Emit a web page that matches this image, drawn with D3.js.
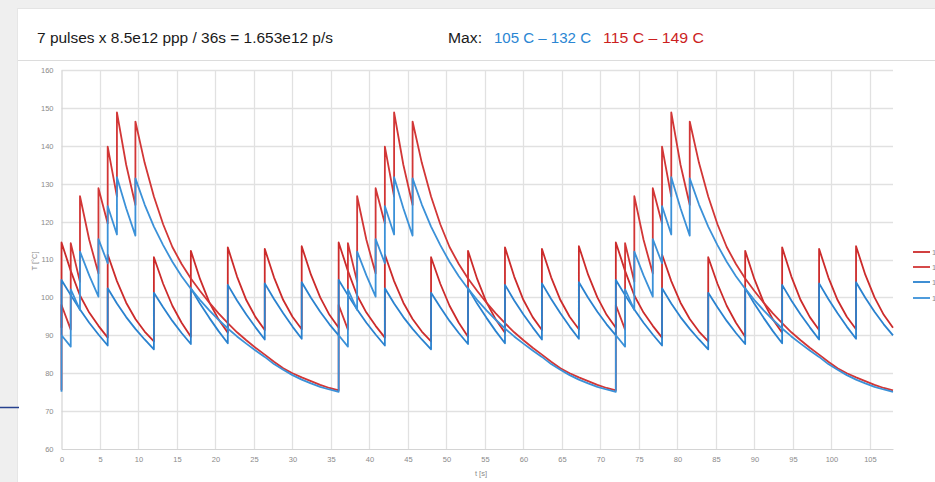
<!DOCTYPE html>
<html>
<head>
<meta charset="utf-8">
<script src="https://cdn.jsdelivr.net/npm/d3@7"></script>
<style>
  html, body { margin: 0; padding: 0; background: #f1f1f1; overflow: hidden; }
  svg { display: block; }
</style>
</head>
<body>
<svg id="chart" width="935" height="482"></svg>
<script>
// ---------- DATA (one 36 s super-cycle, repeated 3 times) ----------
const cycleLength = 36;
const cycleStarts = [0, 36, 72];

// Scenario A: 7 evenly spread pulses
const timesA = [0, 0, 1.2, 2.4, 3.6, 4.8, 6, 6, 7.2, 8.4, 9.6, 10.8, 12, 12, 13.2, 14.4, 15.6, 16.8, 16.8, 18, 19.2, 20.4, 21.6, 21.6, 22.8, 24, 25.2, 26.4, 26.4, 27.6, 28.8, 30, 31.2, 31.2, 32.4, 33.6, 34.8, 36];
const redA   = [92, 114.5, 107, 100.5, 96, 92.5, 89.4, 111.3, 104.3, 98.6, 94.3, 91.0, 88.4, 110.6, 103.6, 97.8, 93.3, 89.6, 112.3, 104.8, 98.7, 94.2, 90.7, 113.2, 105.5, 99.3, 94.8, 91.4, 112.8, 105.3, 99.3, 94.9, 91.6, 113.5, 106, 100, 95.4, 92];
const blueA  = [90, 104.6, 100.6, 96.8, 93.3, 90.2, 87.3, 102.4, 98.4, 94.8, 91.7, 88.9, 86.3, 101.2, 97.4, 93.8, 90.6, 87.7, 102.4, 98.3, 94.6, 91.1, 87.9, 103.3, 99.2, 95.5, 92.1, 88.9, 103.7, 99.6, 95.8, 92.3, 89.1, 104, 99.9, 96.2, 92.9, 90];

// Scenario B: 7 bunched pulses
const timesB = [0, 0, 1.2, 1.2, 2.4, 2.4, 3.6, 4.8, 4.8, 6, 6, 7.2, 7.2, 8.4, 9.6, 9.6, 10.8, 12, 13.2, 14.4, 15.6, 16.8, 18, 19.2, 20.4, 21.6, 22.8, 24, 25.2, 26.4, 27.6, 28.8, 30, 31.2, 32.4, 33.6, 34.8, 36];
const redB   = [75.5, 98, 91.5, 114.3, 104.1, 126.7, 115.2, 106.3, 128.8, 119.5, 139.8, 126.6, 148.8, 135.0, 124.4, 146.4, 135.5, 126.6, 119.3, 113.3, 108.8, 105.0, 101.7, 98.6, 95.8, 93.2, 90.8, 88.7, 86.7, 84.9, 83.0, 81.3, 80.0, 78.9, 77.9, 76.9, 76.1, 75.5];
const blueB  = [75.1, 90, 87, 102.1, 96.7, 112.1, 105.8, 100.2, 115.4, 109, 124.1, 116.6, 131.7, 123.5, 116.3, 131.4, 124.5, 118.7, 113.8, 109.4, 105.6, 102.3, 99.3, 96.6, 94.1, 91.8, 89.7, 87.8, 86.0, 84.3, 82.4, 80.9, 79.5, 78.3, 77.3, 76.4, 75.7, 75.1];

const xTickValues = [0, 5, 10, 15, 20, 25, 30, 35, 40, 45, 50, 55, 60, 65, 70, 75, 80, 85, 90, 95, 100, 105];
const yTickValues = [60, 70, 80, 90, 100, 110, 120, 130, 140, 150, 160];

const seriesNames  = ["115 C", "149 C", "105 C", "132 C"];
const seriesColors = ["#cc2b2b", "#d23636", "#2a82cf", "#3b91d8"];

const titleText = "7 pulses x 8.5e12 ppp / 36s = 1.653e12 p/s";
const maxLabel = "Max:";
const blueMaxText = "105 C \u2013 132 C";
const redMaxText = "115 C \u2013 149 C";

// ---------- BUILD ----------
function repeatCycle(times, values) {
  const pts = [];
  cycleStarts.forEach(s => {
    times.forEach((t, i) => pts.push([s + t, values[i]]));
  });
  return pts;
}
const series = [
  { name: seriesNames[0], color: seriesColors[0], pts: repeatCycle(timesA, redA) },
  { name: seriesNames[1], color: seriesColors[1], pts: repeatCycle(timesB, redB) },
  { name: seriesNames[2], color: seriesColors[2], pts: repeatCycle(timesA, blueA) },
  { name: seriesNames[3], color: seriesColors[3], pts: repeatCycle(timesB, blueB) }
];

const svg = d3.select("#chart");

// page / card background
svg.append("rect").attr("x", 0).attr("y", 0).attr("width", 935).attr("height", 482).attr("fill", "#efefef");
svg.append("rect").attr("x", 18).attr("y", 8).attr("width", 930).attr("height", 480).attr("fill", "#ffffff");
svg.append("line").attr("x1", 18).attr("x2", 935).attr("y1", 8.5).attr("y2", 8.5).attr("stroke", "#e4e4e4");
svg.append("line").attr("x1", 17.5).attr("x2", 17.5).attr("y1", 8).attr("y2", 482).attr("stroke", "#e6e6e6");
// separator under title
svg.append("line").attr("x1", 18).attr("x2", 935).attr("y1", 60.5).attr("y2", 60.5).attr("stroke", "#dcdcdc");
// small dark-blue line at left edge
svg.append("line").attr("x1", 0).attr("x2", 19).attr("y1", 407.5).attr("y2", 407.5).attr("stroke", "#27418f").attr("stroke-width", 1.5);

// title texts
const tf = "'Liberation Sans', Arial, sans-serif";
svg.append("text").attr("x", 37).attr("y", 43).attr("font-family", tf).attr("font-size", 15.5)
  .attr("fill", "#1a1a1a").attr("textLength", 296).attr("lengthAdjust", "spacingAndGlyphs").text(titleText);
svg.append("text").attr("x", 448).attr("y", 43).attr("font-family", tf).attr("font-size", 15.5)
  .attr("fill", "#1a1a1a").attr("textLength", 34).attr("lengthAdjust", "spacingAndGlyphs").text(maxLabel);
svg.append("text").attr("x", 494).attr("y", 43).attr("font-family", tf).attr("font-size", 15.5)
  .attr("fill", "#2a86d3").attr("textLength", 97).attr("lengthAdjust", "spacingAndGlyphs").text(blueMaxText);
svg.append("text").attr("x", 603).attr("y", 43).attr("font-family", tf).attr("font-size", 15.5)
  .attr("fill", "#cc1f1f").attr("textLength", 101).attr("lengthAdjust", "spacingAndGlyphs").text(redMaxText);

// scales
const x = d3.scaleLinear().domain([0, 108]).range([61.5, 893]);
const y = d3.scaleLinear().domain([60, 160]).range([449, 70]);

// gridlines
const g = svg.append("g");
g.selectAll(".hg").data(yTickValues.filter(v => v > 60)).join("line")
  .attr("x1", x(0)).attr("x2", x(108))
  .attr("y1", d => Math.round(y(d)) + 0.5).attr("y2", d => Math.round(y(d)) + 0.5)
  .attr("stroke", "#e1e1e1").attr("stroke-width", 1.3);
g.selectAll(".vg").data(xTickValues.filter(v => v > 0)).join("line")
  .attr("x1", d => Math.round(x(d)) + 0.5).attr("x2", d => Math.round(x(d)) + 0.5)
  .attr("y1", y(160)).attr("y2", y(60))
  .attr("stroke", "#e1e1e1").attr("stroke-width", 1.3);

// axes
const xAxis = d3.axisBottom(x).tickValues(xTickValues).tickSize(0).tickPadding(8);
const yAxis = d3.axisLeft(y).tickValues(yTickValues).tickSize(0).tickPadding(8);
const ax = svg.append("g").attr("transform", `translate(0,${y(60)})`).call(xAxis);
const ay = svg.append("g").attr("transform", `translate(${x(0)},0)`).call(yAxis);
[ax, ay].forEach(a => {
  a.select(".domain").attr("stroke", "#d4d4d4").attr("stroke-width", 1.2);
  a.selectAll("text").attr("font-family", tf).attr("font-size", 7.5).attr("fill", "#8a8a8a");
});

// axis titles
svg.append("text").attr("x", 481).attr("y", 476).attr("text-anchor", "middle")
  .attr("font-family", tf).attr("font-size", 7.5).attr("fill", "#8a8a8a").text("t [s]");
svg.append("text").attr("transform", `translate(37,${261}) rotate(-90)`).attr("text-anchor", "middle")
  .attr("font-family", tf).attr("font-size", 7.5).attr("fill", "#8a8a8a").text("T [°C]");

// lines
const line = d3.line().x(d => x(d[0])).y(d => y(d[1]));
svg.append("g").selectAll("path").data(series).join("path")
  .attr("d", d => line(d.pts))
  .attr("fill", "none")
  .attr("stroke", d => d.color)
  .attr("stroke-width", 1.8)
  .attr("stroke-linejoin", "round");

// legend (cut off at right edge, as in the reference)
const legY = [252, 267, 282, 298];
const leg = svg.append("g").selectAll("g").data(series).join("g")
  .attr("transform", (d, i) => `translate(913,${legY[i]})`);
leg.append("line").attr("x1", 0).attr("x2", 17).attr("y1", 0).attr("y2", 0)
  .attr("stroke", d => d.color).attr("stroke-width", 1.8);
leg.append("text").attr("x", 19).attr("y", 3).attr("font-family", tf).attr("font-size", 7.5)
  .attr("fill", "#8a8a8a").text(d => d.name);
</script>
</body>
</html>
